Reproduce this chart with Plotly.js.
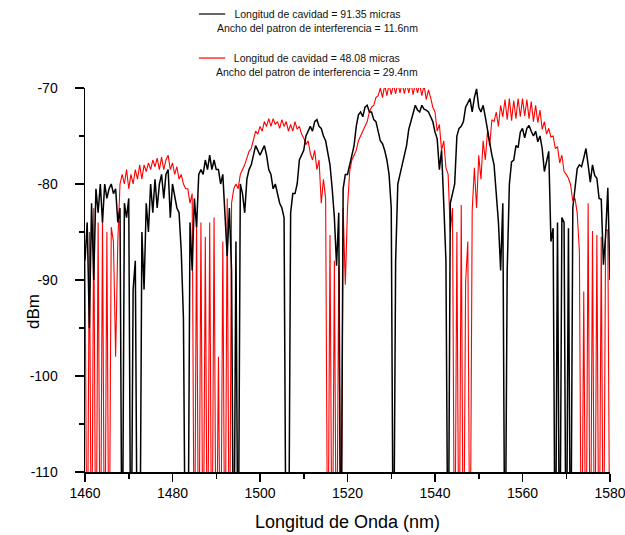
<!DOCTYPE html>
<html>
<head>
<meta charset="utf-8">
<script src="https://cdn.plot.ly/plotly-3.0.1.min.js"></script>
<style>html,body{margin:0;padding:0;background:#fff;}#chart{width:625px;height:535px;}</style>
</head>
<body>
<div id="chart"></div>
<script>
// Wavelength sampling grid (nm)
const lambdaStart = 1460;
const lambdaStep = 0.5;

// Series 1: cavity length 91.35 um (black), dBm, one value every 0.5 nm from 1460 to 1580
const black9135 = [
  -88,-84,-95,-82,-90,-80.5,-83,-80,-84,-80,
  -81.5,-80.5,-80,-81,-80.5,-84,-82.5,-125,-82,-83.5,
  -81.5,-125,-91,-88,-125,-125,-85,-91,-82,-85,
  -80,-83,-79.5,-82.5,-80,-79,-81.5,-79,-78.5,-83.5,
  -80,-81.5,-82.5,-83,-87,-94,-125,-125,-84,-89,
  -81.5,-84.5,-79,-78.5,-79,-77.5,-78.5,-77,-78.5,-77.5,
  -78.5,-78.5,-80,-79,-83,-87.5,-82.5,-89,-125,-86,
  -125,-80,-81,-83,-79.5,-78.5,-78,-77,-76,-76.5,
  -77,-76.5,-76,-77,-78.5,-79,-80.5,-80,-81,-82,
  -82.5,-83.5,-125,-125,-83,-81,-81,-80,-77.5,-77,
  -76.5,-75,-74.5,-74,-74.5,-73.5,-73.3,-74,-74.2,-75,
  -75.5,-77,-78,-80.5,-83.5,-88.5,-83,-125,-80.5,-79,
  -79,-78,-77,-76,-74,-72.8,-72.5,-73,-72,-71.8,
  -72.5,-72.5,-73.3,-73.5,-74.5,-75.5,-75.8,-76.5,-77.5,-79,
  -82.5,-125,-88,-80,-79,-78,-77,-76,-74.3,-73.5,
  -72.5,-71.8,-72.3,-72.5,-71.8,-72.2,-72.3,-72.5,-73,-73.5,
  -74.6,-75.3,-78.5,-76.5,-82,-88,-125,-82,-81,-80,
  -75,-74.2,-74,-73.5,-72,-71.5,-71.1,-72.5,-71,-70.1,
  -72,-72.5,-71.8,-73,-74.5,-75.5,-77,-78,-81.5,-84,
  -89,-82,-125,-89,-80,-77.7,-77.5,-76,-76.2,-74.6,
  -74.2,-75.2,-74.2,-73.9,-74.5,-75,-74.5,-75.6,-75,-76.3,
  -78.7,-77.7,-76.6,-86,-84.6,-125,-84,-125,-83.5,-84,
  -125,-84.6,-125,-82.5,-80.1,-78.4,-78,-78.2,-77.3,-76.3,
  -78,-79.8,-78,-79.1,-79.4,-81.5,-81.6,-88.4,-85.3,-80.4,
  -90
];

// Series 2: cavity length 48.08 um (red), dBm, one value every 0.5 nm from 1460 to 1580
const red4808 = [
  -88,-125,-85,-125,-82.5,-125,-84,-125,-83.5,-125,
  -85,-125,-84.5,-86,-98,-86,-80,-79,-80,-78.5,
  -80.5,-79,-80,-78.5,-79.5,-78,-79.5,-78,-78.7,-77.8,
  -78.5,-77.5,-78.2,-77.3,-78.5,-77.2,-78.5,-77.5,-77,-78.5,
  -77.8,-79,-78.2,-79.5,-79,-80,-80.5,-80.5,-82,-81,
  -125,-83.5,-125,-84,-125,-85.5,-125,-84,-125,-83.5,
  -125,-98,-125,-86,-125,-81.5,-125,-82,-80.5,-80,
  -80.5,-79,-78.5,-78,-77.3,-76.6,-76.3,-75.5,-74.5,-74.8,
  -74,-74.5,-73.5,-74,-73.2,-74,-73.2,-73.8,-73.5,-74.2,
  -73.3,-74,-73.5,-74.5,-73.8,-74.5,-73.5,-74.3,-74,-74.8,
  -75.2,-75.9,-75.5,-76.8,-77.5,-76.5,-78.5,-77.5,-82,-79.5,
  -81.5,-125,-85.3,-125,-88,-125,-88.5,-125,-82.5,-90.5,
  -82.5,-78.7,-77.5,-77,-76.5,-75.5,-75,-74.5,-74,-73.5,
  -72.5,-72,-71.8,-71,-70.8,-70,-71,-69.7,-70.8,-69.6,
  -70.7,-69.6,-70.6,-69.5,-70.5,-69.5,-70.6,-69.5,-70.5,-69.5,
  -70.7,-69.5,-70.5,-69.6,-70.8,-69.7,-71.2,-70.2,-71,-72,
  -72.5,-74.5,-73.8,-76.5,-75.5,-78.3,-79,-85,-82.5,-125,
  -85,-125,-82.2,-125,-90.2,-86,-125,-82.8,-78.3,-82.5,
  -77,-79.5,-75.5,-77.5,-74.5,-76,-73.3,-73.5,-72.5,-74,
  -71.8,-73,-71.2,-73.3,-71.1,-73.4,-71.3,-73.2,-71.1,-73,
  -71.1,-72.9,-71.2,-73.2,-71.4,-73.5,-71.8,-73.6,-72.3,-74.3,
  -73.5,-74.8,-74.2,-75.1,-75,-76.3,-76.1,-77.8,-77,-78.7,
  -79,-79.4,-80.1,-81.8,-81.5,-83,-87,-125,-91.2,-125,
  -82,-125,-84.9,-125,-85.3,-125,-85.5,-125,-84.8,-84.8,
  -125
];

const seriesNames = [
  'Longitud de cavidad = 91.35 micras<br>Ancho del patron de interferencia = 11.6nm',
  'Longitud de cavidad = 48.08 micras<br>Ancho del patron de interferencia = 29.4nm'
];

const xTickVals = [1460, 1480, 1500, 1520, 1540, 1560, 1580];
const xTickText = ['1460', '1480', '1500', '1520', '1540', '1560', '1580'];
const yTickVals = [-110, -100, -90, -80, -70];
const yTickText = ['-110', '-100', '-90', '-80', '-70'];

const wl = black9135.map((_, i) => lambdaStart + i * lambdaStep);

const FONT = 'Liberation Sans, Arial, sans-serif';

const traces = [
  {x: wl, y: red4808, type: 'scatter', mode: 'lines', name: seriesNames[1],
   line: {color: '#ff0000', width: 1.1}, showlegend: false},
  {x: wl, y: black9135, type: 'scatter', mode: 'lines', name: seriesNames[0],
   line: {color: '#000000', width: 1.5}, showlegend: false}
];

const layout = {
  width: 625, height: 535,
  margin: {l: 85, r: 15, t: 88, b: 63, pad: 0},
  paper_bgcolor: '#ffffff', plot_bgcolor: '#ffffff',
  font: {family: FONT, color: '#000', size: 14},
  showlegend: false,
  xaxis: {
    range: [1460, 1580], showgrid: false, zeroline: false,
    showline: true, linecolor: '#000', linewidth: 1.5, mirror: false,
    tickmode: 'array', tickvals: xTickVals, ticktext: xTickText,
    ticks: 'outside', ticklen: 8, tickwidth: 1.5, tickcolor: '#000',
    ticklabeloverflow: 'allow',
    tickfont: {family: FONT, size: 14, color: '#000'},
    minor: {dtick: 10, tick0: 1460, ticks: 'outside', ticklen: 5, tickwidth: 1.5, tickcolor: '#000', showgrid: false},
    title: {text: 'Longitud de Onda (nm)', font: {family: FONT, size: 18, color: '#000'}, standoff: 15}
  },
  yaxis: {
    range: [-110, -70], showgrid: false, zeroline: false,
    showline: true, linecolor: '#000', linewidth: 1.5, mirror: false,
    tickmode: 'array', tickvals: yTickVals, ticktext: yTickText,
    ticks: 'outside', ticklen: 9, tickwidth: 1.5, tickcolor: '#000',
    ticklabelstandoff: 14,
    tickfont: {family: FONT, size: 14, color: '#000'},
    minor: {dtick: 5, tick0: -110, ticks: 'outside', ticklen: 5, tickwidth: 1.5, tickcolor: '#000', showgrid: false},
    title: {text: ''}
  },
  shapes: [
    {type: 'line', xref: 'paper', yref: 'paper', x0: 0.217, x1: 0.267, y0: 1.1927, y1: 1.1927,
     line: {color: '#000000', width: 1.2}},
    {type: 'line', xref: 'paper', yref: 'paper', x0: 0.217, x1: 0.267, y0: 1.078, y1: 1.078,
     line: {color: '#ff0000', width: 1.2}}
  ],
  annotations: [
    {xref: 'paper', yref: 'paper', x: -0.097, y: 0.4167, xanchor: 'center', yanchor: 'middle',
     textangle: -90, showarrow: false, text: 'dBm',
     font: {family: FONT, size: 17, color: '#000'}},
    {xref: 'paper', yref: 'paper', x: 0.442, y: 1.1732, xanchor: 'center', yanchor: 'middle',
     align: 'center', showarrow: false, text: seriesNames[0],
     font: {family: FONT, size: 10.5, color: '#111'}},
    {xref: 'paper', yref: 'paper', x: 0.442, y: 1.0586, xanchor: 'center', yanchor: 'middle',
     align: 'center', showarrow: false, text: seriesNames[1],
     font: {family: FONT, size: 10.5, color: '#111'}}
  ]
};

Plotly.newPlot('chart', traces, layout, {staticPlot: true, displayModeBar: false});
</script>
</body>
</html>
